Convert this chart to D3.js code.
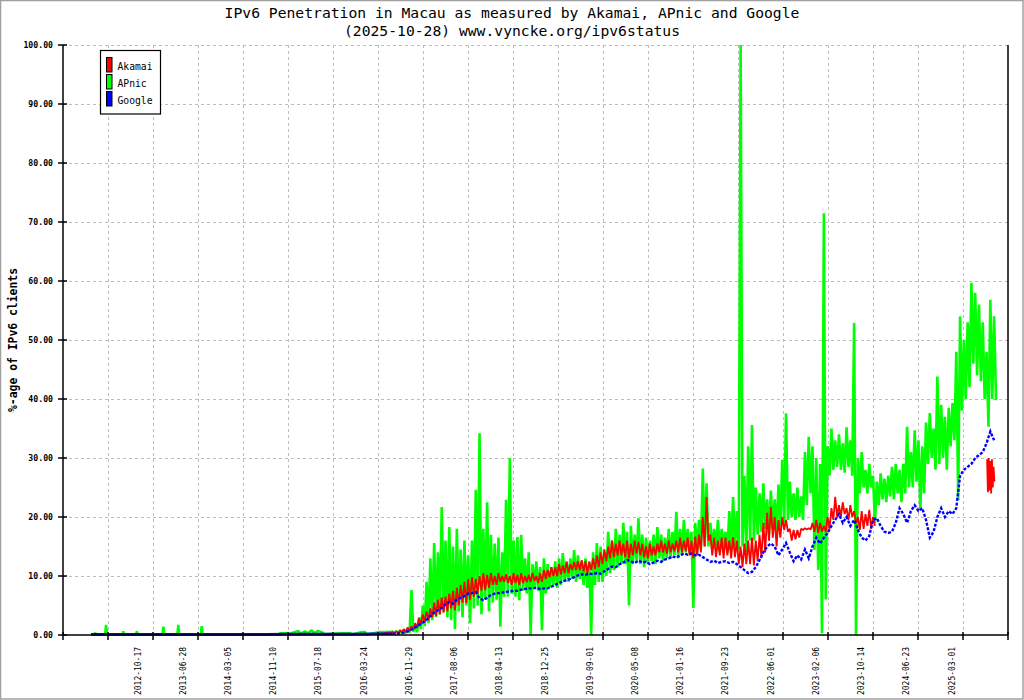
<!DOCTYPE html>
<html><head><meta charset="utf-8">
<script src="https://cdn.jsdelivr.net/npm/d3@7"></script>
<style>html,body{margin:0;padding:0;background:#fff}</style>
</head><body>
<svg id="chart" width="1024" height="700"></svg>
<script>
const title1 = "IPv6 Penetration in Macau as measured by Akamai, APnic and Google";
const title2 = "(2025-10-28) www.vyncke.org/ipv6status";
const yTitle = "%-age of IPv6 clients";
const seriesNames = ["Akamai", "APnic", "Google"];
const xLabels = ["2012-10-17","2013-06-28","2014-03-05","2014-11-10","2015-07-18","2016-03-24",
  "2016-11-29","2017-08-06","2018-04-13","2018-12-25","2019-09-01","2020-05-08","2021-01-16",
  "2021-09-23","2022-06-01","2023-02-06","2023-10-14","2024-06-23","2025-03-01"];
const yTicks = [0,10,20,30,40,50,60,70,80,90,100];
const xDomain = ["2011-08-30","2026-01-08"];

// APnic, early years: sparse readings
const apnicEarlyDates = ["2012-02-20","2012-02-24","2012-03-01","2012-04-20","2012-04-25","2012-04-30",
  "2012-07-25","2012-07-30","2012-08-04","2012-10-08","2012-10-13","2012-10-18","2013-03-04","2013-03-09",
  "2013-03-14","2013-05-26","2013-05-31","2013-06-05","2013-10-03","2013-10-08","2013-10-13","2014-12-11",
  "2014-12-16","2015-01-22","2015-01-27","2015-03-29","2015-04-06","2015-05-03","2015-05-20","2015-06-10",
  "2015-06-25","2015-07-15","2015-08-11","2015-08-20","2015-11-25","2016-01-09","2016-01-20","2016-03-15",
  "2016-04-01","2016-04-10","2016-06-23","2016-08-18"];
const apnicEarlyValues = [0.1,0.4,0.1,0.1,1.7,0.1,0.1,0.6,0.1,0.1,0.6,0.1,0.1,1.4,0.1,0.1,1.7,0.1,0.1,1.5,0.1,0.1,
  0.3,0.3,0.1,0.7,0.2,0.6,0.3,0.8,0.3,0.7,0.4,0.1,0.3,0.3,0.1,0.5,0.5,0.1,0.5,0.5];
// APnic from 2016-09-01, every 21 days: daily high and low within each period
const apnicStart = "2016-09-01";
const apnicStepDays = 21;
const apnicHigh = [0.6,0.7,0.8,0.9,1.0,7.6,1.5,3,5,9,
  13,15.6,14,21.7,16,18.3,15,18,14.5,16,
  13.5,16,24.6,34.2,18,22.5,17,15.5,16.5,14,
  22.9,30,16,16.6,17,13,14,12,12.5,11.5,
  13,12,11.5,12.5,13,13.9,12.5,13,14.4,13.5,
  12.5,13,12.5,14,15.6,15,14,17.5,16,18,
  17,19,17.5,18.5,17,19.8,17,16.5,16,17,
  18.3,17,16.5,18,17.5,20.9,18,19.5,18,17.5,
  19,19.5,28.2,25.7,19,18,19.5,18,17.5,21,
  23.4,21,100,27,32,35.6,25,24,25.7,23,
  24.5,23,25.5,29.7,37.6,26,24,25,23.5,31,
  33.6,32,30,29,71.5,32,35,33,34,32.5,
  35.2,33,52.9,30,31,28,29,27,26,27.4,
  26.5,27,28.5,29,28,29,35.3,31,34.7,33,
  32,36,37.6,35,43.8,39,37,38.5,39.3,48,
  54,50,53,59.7,58,56,53,48,56.8,54];
const apnicLow = [0.2,0.2,0.3,0.3,0.4,0.5,0.5,1,1.5,2,
  2.5,3,3.5,4,3,2.5,1,4,3,5,
  2,4.5,5,3.5,6,4,5.5,6,1.4,6.5,
  6.5,7,6.5,5.9,7.5,7,0,8,7.5,0.8,
  7,8,8.5,8,8.5,9,9,9.5,9,9.5,
  8.5,8,0,8.5,9,9,10,10.5,11,11.5,
  12,12,5,12,12.5,12,11.5,12,12.5,12,
  13,12.5,13,13,13.5,13,13.5,14,14,4.6,
  14,14.5,15,15,14.5,15,14,14.5,14,14.5,
  15,14.5,15,14,16,16,17,17.5,18,17,
  18,17.5,18.5,19,19.5,20,19.5,20,19.5,22,
  24,14.4,11,0.3,6,27,28,28.5,28,27.5,
  28.5,27,0,24,25,24,25,19,22,23,
  22.5,23.5,23,24,22.5,24,25,25,26,21.2,
  24,29,30,28,29,30,28,32,33,22.9,
  38,40,42,46,44,43,40,35.3,40,39.8];

// Akamai from 2016-06-30, every 21 days (high / low), then a late segment
const akamaiStart = "2016-06-30";
const akamaiStepDays = 21;
const akamaiHigh = [0.4,0.4,0.5,
  0.5,0.6,0.8,1,1.3,1.5,2,2.8,3.5,4,
  4.5,5.5,6,6.4,6.5,7,7.5,8,8.5,9,
  9.5,9.8,9.5,10,10.5,10.2,10.5,10,10.5,10,
  10.3,10,10.5,10.2,10.5,10,10.2,10.5,10,10.5,
  11,11,11.5,11.5,12,11.8,12.4,12,12.4,12.5,
  12.7,12.5,12.4,13,13.5,14,14.5,15,16,15.5,
  16,15.5,16,15.5,16,15.8,15.5,15,15.5,15,
  15.5,16,15.5,16,15.5,16,16.5,16,16.5,16,
  16.7,17,20,23.4,17,16.5,16,16.5,16.5,16,
  16.6,16,15,15.5,16,16.5,16,17,19,20.7,
  21.7,20,19.5,20,19.5,18,17.8,17.8,18,18.1,
  18.1,19,19.5,19,18.5,20,21.5,23.4,22,22.5,
  21.5,22,21,20,21,20.5,21.2,20];
const akamaiLow = [0.2,0.2,0.3,
  0.3,0.3,0.4,0.5,0.7,0.9,1.2,1.8,2.2,2.5,
  3,3.2,3.5,3.8,4,4.5,4.2,5,5.5,5.4,
  6,6.5,7,7.5,7.6,8,8.5,8.5,9,9,
  8.8,8.5,8.8,8.5,8.8,9,9,9.2,8.8,9,
  9.5,9.8,10,10,10.3,10.5,10.5,11,11,11,
  10.8,10.5,11,11.2,11.5,12,12.5,13,13.2,13.5,
  13.5,13.2,13,13.5,13.8,13.5,13.2,13,13.5,13.5,
  14,14,13.8,14,14.2,14,14,14.2,13.5,13,
  13.5,14,15,16,13.5,13.2,13.5,13,13.5,13,
  13.2,12,11.5,12,12,11.8,12.5,13,14,16,
  16.5,15,16.5,17.8,17.5,16,16.2,16.5,17.8,17.9,
  17.9,17.5,17.3,17.5,17.5,18,19.5,20,20,20.5,
  19.5,20,19,17.8,18,18.5,18,18.5];
const akamaiLateStart = "2025-09-14";
const akamaiLateStepDays = 9;
const akamaiLateHigh = [29.8,30,29.5,29.8,28.5];
const akamaiLateLow = [24.2,24.5,24,25,26];

// Google: early flat readings, then every 21 days from 2016-09-01
const googleEarlyDates = ["2012-02-01","2012-06-01","2012-10-01","2013-02-01","2013-06-01","2013-10-01",
  "2014-02-01","2014-06-01","2014-10-01","2015-02-01","2015-06-01","2015-10-01","2016-02-01","2016-06-01","2016-08-11"];
const googleEarlyValues = [0.1,0.1,0.1,0.1,0.1,0.1,0.1,0.1,0.1,0.15,0.15,0.15,0.15,0.2,0.2];
const googleStart = "2016-09-01";
const googleStepDays = 21;
const googleValues = [0.2,0.2,0.3,0.4,0.6,0.9,1.3,1.7,2.1,2.6,
  3.2,3.8,4.2,4.6,5.2,5.6,5.3,6,6.3,6.6,
  7,7.1,7.3,6.2,5.9,6.3,6.8,7,7.1,7.2,
  7.3,7.4,7.5,7.5,7.7,7.8,7.9,7.9,8,7.8,
  7.9,7.9,8.2,8.5,8.8,9.1,9.3,9.5,9.8,10.1,
  10.3,10.2,10.4,10.3,10.5,10.4,10.8,11.2,11.6,11.5,
  12,12.3,12.7,12.5,12.2,12.6,12.3,12.4,12,12.3,
  12.6,12.4,12.8,13,13.3,13.1,13.5,13.8,13.6,13.8,
  13.5,13.6,13.2,12.8,12.4,12.6,12.2,12.4,12.5,12.2,
  12.4,12,11.5,11,10.5,10.7,11.5,12.7,14,15,
  15.5,15,13.5,14.5,15.6,14,12.5,13.5,12.8,14.5,
  13,15,16.5,15.5,16.5,17.3,18.5,19.5,20.5,19,
  20,18.5,19.5,17.8,16.5,16,16.8,19.5,19.8,18.5,
  17.5,17.3,17.5,19,21.5,20.5,19,21,22,21,
  21.5,19.5,16.5,17.5,20,21.5,20,21,20.5,21.5,
  27,28,28.5,29,30,30.5,31,32.5,34.5,33];

// ---------- build ----------
const parse = d3.utcParse("%Y-%m-%d");
function pairSeries(start, stepDays, hi, lo) {
  const t0 = parse(start), out = [];
  hi.forEach((h, i) => {
    out.push([d3.utcHour.offset(t0, i * stepDays * 24), h]);
    out.push([d3.utcHour.offset(t0, i * stepDays * 24 + stepDays * 12), lo[i]]);
  });
  return out;
}
function stepSeries(start, stepDays, vals) {
  const t0 = parse(start);
  return vals.map((v, i) => [d3.utcDay.offset(t0, i * stepDays), v]);
}
function listSeries(dates, vals) { return dates.map((d, i) => [parse(d), vals[i]]); }

const apnicData = listSeries(apnicEarlyDates, apnicEarlyValues).concat(pairSeries(apnicStart, apnicStepDays, apnicHigh, apnicLow));
const akamaiData = pairSeries(akamaiStart, akamaiStepDays, akamaiHigh, akamaiLow);
const akamaiLate = pairSeries(akamaiLateStart, akamaiLateStepDays, akamaiLateHigh, akamaiLateLow);
const googleMain = stepSeries(googleStart, googleStepDays, googleValues);
const googleEarly = listSeries(googleEarlyDates, googleEarlyValues).concat([googleMain[0]]);

const W = 1024, H = 700;
const M = {left: 63, right: 1008, top: 45, bottom: 635};
const svg = d3.select("#chart");
const mono = "'DejaVu Sans Mono', 'Liberation Mono', monospace";

const x = d3.scaleUtc().domain(xDomain.map(parse)).range([M.left, M.right]);
const y = d3.scaleLinear().domain([0, 100]).range([M.bottom, M.top]);

svg.append("rect").attr("x", 0).attr("y", 0).attr("width", W).attr("height", H).attr("fill", "#fff");
svg.append("rect").attr("x", 0.5).attr("y", 0.5).attr("width", W - 1.5).attr("height", H - 1.5)
  .attr("fill", "none").attr("stroke", "#a0a0a0").attr("stroke-width", 1.5);

// tick positions: 21 equal intervals across the axis
const nInt = 21;
const tickDates = d3.range(nInt + 1).map(k => x.invert(M.left + k * (M.right - M.left) / nInt));

const grid = svg.append("g").attr("stroke", "#bdbdbd").attr("stroke-width", 1).attr("stroke-dasharray", "3,3");
yTicks.filter(v => v > 0).forEach(v => {
  grid.append("line").attr("x1", M.left).attr("x2", M.right).attr("y1", Math.round(y(v)) + 0.5).attr("y2", Math.round(y(v)) + 0.5);
});
tickDates.slice(1, nInt).forEach(d => {
  const px = Math.round(x(d)) + 0.5;
  grid.append("line").attr("x1", px).attr("x2", px).attr("y1", M.top).attr("y2", M.bottom);
});

const line = d3.line().x(d => x(d[0])).y(d => y(d[1]));
const plot = svg.append("g");
plot.append("path").datum(apnicData).attr("d", line).attr("fill", "none")
  .attr("stroke", "#00ff00").attr("stroke-width", 2.6).attr("stroke-linejoin", "bevel");
[akamaiData, akamaiLate].forEach(seg => {
  plot.append("path").datum(seg).attr("d", line).attr("fill", "none")
    .attr("stroke", "#ff0000").attr("stroke-width", 1.8).attr("stroke-linejoin", "bevel");
});
plot.append("path").datum(googleEarly).attr("d", line).attr("fill", "none")
  .attr("stroke", "#0000ff").attr("stroke-width", 2.6);
plot.append("path").datum(googleMain).attr("d", line).attr("fill", "none")
  .attr("stroke", "#0000ff").attr("stroke-width", 2.4).attr("stroke-dasharray", "3,1.6");

// axes
const ax = svg.append("g").attr("stroke", "#000").attr("stroke-width", 1.5);
ax.append("line").attr("x1", M.left).attr("x2", M.left).attr("y1", M.top).attr("y2", M.bottom);
ax.append("line").attr("x1", M.left).attr("x2", M.right).attr("y1", M.bottom).attr("y2", M.bottom);
ax.append("line").attr("x1", M.right).attr("x2", M.right).attr("y1", M.top).attr("y2", M.bottom);
yTicks.forEach(v => {
  ax.append("line").attr("x1", M.left - 5).attr("x2", M.left + 4).attr("y1", y(v)).attr("y2", y(v));
});
tickDates.forEach(d => {
  ax.append("line").attr("x1", x(d)).attr("x2", x(d)).attr("y1", M.bottom - 3).attr("y2", M.bottom + 5);
});

// y tick labels
svg.append("g").selectAll("text").data(yTicks).join("text")
  .attr("x", M.left - 10).attr("y", d => y(d)).attr("dy", "0.35em")
  .attr("text-anchor", "end").attr("font-family", mono).attr("font-size", 8.2).attr("font-weight", "bold")
  .text(d => d3.format(".2f")(d));

// x tick labels
svg.append("g").selectAll("text").data(xLabels).join("text")
  .attr("transform", d => `translate(${x(parse(d))},647) rotate(-90)`)
  .attr("dy", "0.35em").attr("text-anchor", "end")
  .attr("font-family", mono).attr("font-size", 8.5)
  .attr("textLength", 48).attr("lengthAdjust", "spacingAndGlyphs")
  .text(d => d);

// titles
svg.append("text").attr("x", 512).attr("y", 18.3).attr("text-anchor", "middle")
  .attr("font-family", mono).attr("font-size", 14.7).text(title1);
svg.append("text").attr("x", 512).attr("y", 36.3).attr("text-anchor", "middle")
  .attr("font-family", mono).attr("font-size", 14.7).text(title2);
svg.append("text").attr("transform", "translate(13,340) rotate(-90)").attr("dy", "0.35em")
  .attr("text-anchor", "middle").attr("font-family", mono).attr("font-size", 11.4).attr("font-weight", "bold")
  .text(yTitle);

// legend
const seriesColors = ["#ff0000", "#00ff00", "#0000ff"];
const lg = svg.append("g");
lg.append("rect").attr("x", 100.5).attr("y", 50.5).attr("width", 60).attr("height", 63.5)
  .attr("fill", "#fff").attr("stroke", "#000").attr("stroke-width", 1.2);
seriesNames.forEach((n, i) => {
  lg.append("rect").attr("x", 106.5).attr("y", 57.5 + i * 17).attr("width", 5.5).attr("height", 14.5)
    .attr("fill", seriesColors[i]).attr("stroke", "#000").attr("stroke-width", 1);
  lg.append("text").attr("x", 117.5).attr("y", 70 + i * 17).attr("font-family", mono).attr("font-size", 9.7)
    .text(n);
});
</script>
</body></html>
